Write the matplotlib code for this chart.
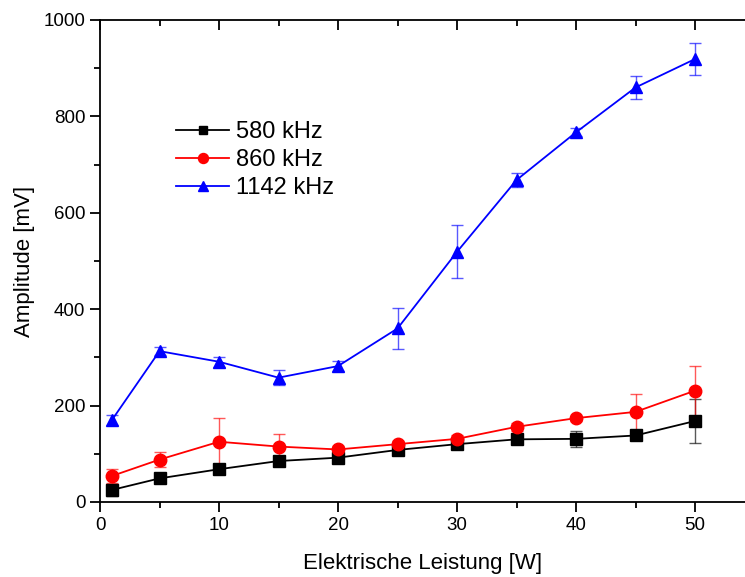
import matplotlib
matplotlib.use("Agg")
import matplotlib.pyplot as plt
from matplotlib.ticker import MultipleLocator

plt.rcParams['font.family'] = ['Liberation Sans', 'DejaVu Sans']

x = [1, 5, 10, 15, 20, 25, 30, 35, 40, 45, 50]
y580 = [25, 49, 68, 85, 92, 108, 120, 130, 131, 138, 168]
e580 = [12, 6, 10, 6, 6, 5, 6, 5, 17, 6, 46]
y860 = [54, 88, 125, 115, 109, 120, 131, 156, 174, 187, 231]
e860 = [14, 16, 49, 26, 8, 6, 8, 8, 5, 38, 52]
y1142 = [170, 313, 291, 258, 282, 360, 519, 668, 767, 860, 919]
e1142 = [10, 8, 10, 15, 10, 42, 55, 14, 8, 23, 34]

labels = ["580 kHz", "860 kHz", "1142 kHz"]
colors = ["black", "red", "blue"]
markers = ["s", "o", "^"]
sizes = [8, 9, 9]

fig = plt.figure(figsize=(7.45, 5.77), dpi=100)
ax = fig.add_axes([100/745, 75/577, 645/745, (502-20)/577])

for ys, es, lab, c, m, ms in zip([y580, y860, y1142], [e580, e860, e1142],
                                  labels, colors, markers, sizes):
    ax.errorbar(x, ys, yerr=es, fmt='none', ecolor=c, alpha=0.65,
                elinewidth=1.0, capsize=4, capthick=1.0, zorder=2)
    ax.plot(x, ys, color=c, marker=m, markersize=ms, linewidth=1.3,
            label=lab, zorder=3)

ax.set_xlim(0, 54.2)
ax.set_ylim(0, 1000)
ax.xaxis.set_major_locator(MultipleLocator(10))
ax.xaxis.set_minor_locator(MultipleLocator(5))
ax.yaxis.set_major_locator(MultipleLocator(200))
ax.yaxis.set_minor_locator(MultipleLocator(100))

ax.spines['right'].set_visible(False)
ax.spines['top'].set_visible(False)
for s in ['left', 'bottom']:
    ax.spines[s].set_linewidth(1.3)

ax.tick_params(axis='both', which='major', direction='out', length=7, width=1.3,
               labelsize=13.5)
ax.tick_params(axis='both', which='minor', direction='out', length=4, width=1.3)
ax.tick_params(axis='x', which='both', top=False)
ax.tick_params(axis='y', which='both', right=False)

sec = ax.secondary_xaxis('top')
sec.xaxis.set_major_locator(MultipleLocator(10))
sec.xaxis.set_minor_locator(MultipleLocator(5))
sec.spines['top'].set_linewidth(1.3)
sec.tick_params(axis='x', which='major', direction='in', length=7, width=1.3,
                labeltop=False)
sec.tick_params(axis='x', which='minor', direction='in', length=4, width=1.3)

ax.set_xlabel("Elektrische Leistung [W]", fontsize=16, labelpad=14)
ax.set_ylabel("Amplitude [mV]", fontsize=16, labelpad=6)

leg = ax.legend(loc='upper left', bbox_to_anchor=(0.118, 0.79), frameon=False,
                fontsize=17, handlelength=2.25, handletextpad=0.3,
                labelspacing=0.25, borderaxespad=0, markerscale=0.8,
                borderpad=0)

fig.savefig("out.png", dpi=100)
